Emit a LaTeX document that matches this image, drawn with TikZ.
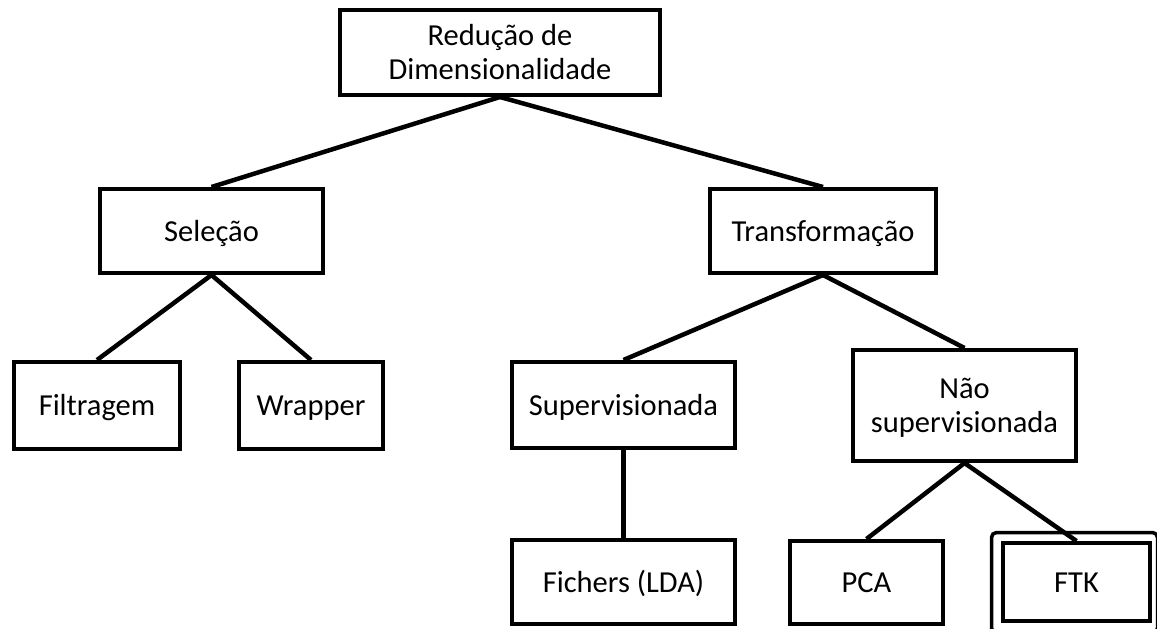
\documentclass[tikz,border=0pt]{standalone}
\usepackage{fontspec}
\setmainfont{Carlito}
\begin{document}
\begin{tikzpicture}[x=1pt,y=-1pt,
  box/.style={draw, line width=4pt, fill=white, inner sep=0pt, align=center,
    text height=22pt, text depth=2pt,
    font=\fontsize{30.5}{34}\selectfont},
  twoline/.style={text height=56pt},
  link/.style={line width=4.5pt}]
\useasboundingbox (0,0) rectangle (1157,629);

% boxes of the hierarchy
\node[box, twoline, minimum width=320pt, minimum height=85pt] (root) at (500,52.5) {Redução de\\Dimensionalidade};
\node[box, minimum width=223pt, minimum height=84pt] (sel) at (211.5,231) {Seleção};
\node[box, minimum width=226pt, minimum height=84pt] (trans) at (823,231) {Transformação};
\node[box, minimum width=166pt, minimum height=87pt] (filt) at (97,405.5) {Filtragem};
\node[box, minimum width=144pt, minimum height=87pt] (wrap) at (311,405.5) {Wrapper};
\node[box, minimum width=223pt, minimum height=86pt] (sup) at (623.5,405) {Supervisionada};
\node[box, twoline, minimum width=223pt, minimum height=111pt] (nao) at (964.5,405.5) {Não\\supervisionada};
\node[box, minimum width=223pt, minimum height=84pt] (fich) at (623.5,582) {Fichers (LDA)};
\node[box, minimum width=153pt, minimum height=83pt] (pca) at (866.5,582.5) {PCA};
\node[box, minimum width=147pt, minimum height=78pt] (ftk) at (1076.5,582) {FTK};

% outer frame around the highlighted leaf
\draw[line width=3.5pt, rounded corners=5pt]
  ([xshift=-9.5pt,yshift=8.5pt]ftk.north west) rectangle ([xshift=5.5pt,yshift=-10pt]ftk.south east);

% connectors
\draw[link] (root.south) -- (sel.north);
\draw[link] (root.south) -- (trans.north);
\draw[link] (sel.south) -- (filt.north);
\draw[link] (sel.south) -- (wrap.north);
\draw[link] (trans.south) -- (sup.north);
\draw[link] (trans.south) -- (nao.north);
\draw[link] (sup.south) -- (fich.north);
\draw[link] (nao.south) -- (pca.north);
\draw[link] (nao.south) -- (ftk.north);
\end{tikzpicture}
\end{document}
